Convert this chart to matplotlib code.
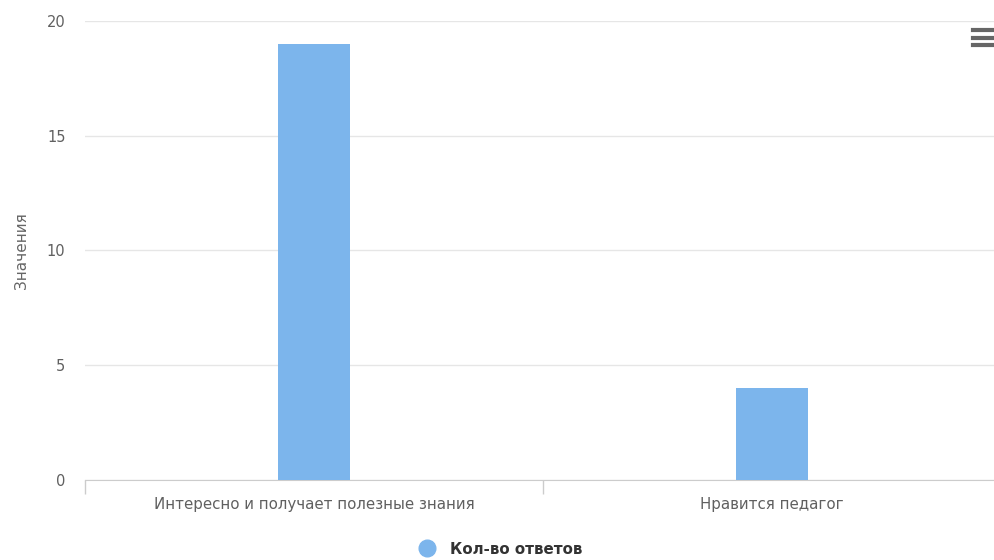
import matplotlib.pyplot as plt
from matplotlib.lines import Line2D

categories = ['Интересно и получает полезные знания', 'Нравится педагог']
values = [19, 4]
series_name = 'Кол-во ответов'
y_ticks = [0, 5, 10, 15, 20]

plt.rcParams['font.family'] = ['DejaVu Sans']

W, H = 994, 560
fig = plt.figure(figsize=(W / 100, H / 100), dpi=100)
ax = fig.add_axes([85 / W, (H - 480) / H, 916 / W, 459 / H])

x = list(range(len(categories)))
ax.bar(x, values, width=0.157, color='#7cb5ec', zorder=3)

ax.set_xlim(-0.5, len(categories) - 0.5)
ax.set_ylim(0, 20)
ax.set_yticks(y_ticks)
ax.set_yticklabels([str(t) for t in y_ticks], color='#606060', fontsize=10.5)
ax.grid(axis='y', color='#e6e6e6', linewidth=1, zorder=0)
ax.tick_params(axis='y', length=0, pad=14)

ax.set_xticks(x)
ax.set_xticklabels(categories, color='#606060', fontsize=10.8)
ax.tick_params(axis='x', length=0, pad=12)
ax.set_xticks([-0.5, 0.5, 1.5], minor=True)
ax.tick_params(axis='x', which='minor', length=10, color='#cccccc', width=1)

for side in ['top', 'right', 'left']:
    ax.spines[side].set_visible(False)
ax.spines['bottom'].set_color('#cccccc')

ax.set_ylabel('Значения', color='#666666', fontsize=11, labelpad=13)

# legend
handle = Line2D([], [], marker='o', linestyle='none', markersize=12,
                markerfacecolor='#7cb5ec', markeredgecolor='#7cb5ec')
fig.legend([handle], [series_name], loc='center', bbox_to_anchor=(497 / W, (H - 549) / H),
           frameon=False, handletextpad=0.5,
           prop={'weight': 'bold', 'size': 10.8}, labelcolor='#333333')

# context menu icon
for yy in [30, 38, 45]:
    fig.add_artist(Line2D([973 / W, 993 / W], [(H - yy) / H] * 2, color='#666666',
                          linewidth=3, transform=fig.transFigure))

fig.savefig('out.png', dpi=100)
